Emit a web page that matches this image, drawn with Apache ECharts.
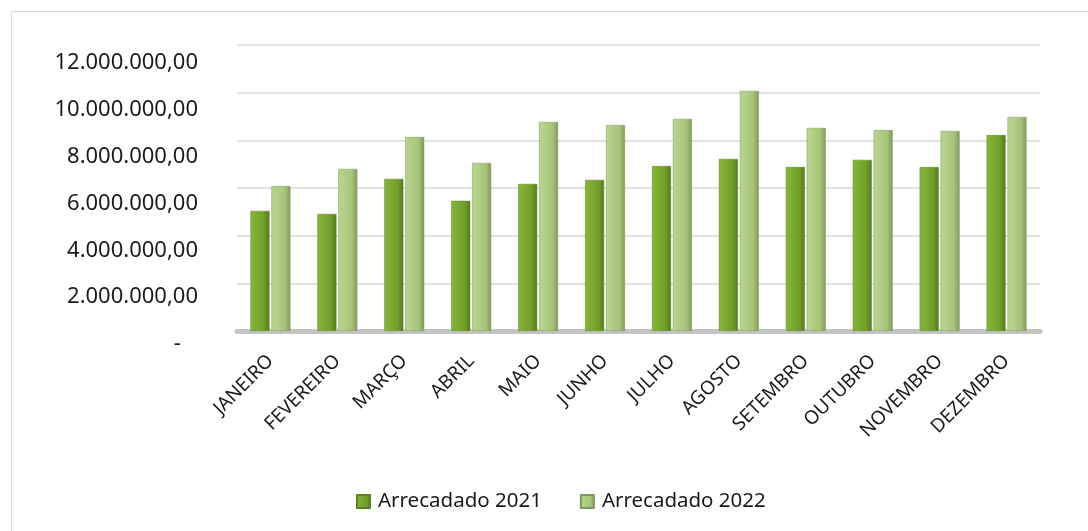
<!DOCTYPE html>
<html>
<head>
<meta charset="utf-8">
<style>
  html, body { margin: 0; padding: 0; background: #ffffff; }
  #chart { width: 1088px; height: 531px; }
</style>
<script src="https://cdn.jsdelivr.net/npm/echarts@6/dist/echarts.min.js"></script>
</head>
<body>
<div id="chart"></div>
<script>
const categories = ['JANEIRO', 'FEVEREIRO', 'MARÇO', 'ABRIL', 'MAIO', 'JUNHO', 'JULHO', 'AGOSTO', 'SETEMBRO', 'OUTUBRO', 'NOVEMBRO', 'DEZEMBRO'];
const arrecadado2021 = [5040000, 4910000, 6380000, 5460000, 6170000, 6340000, 6920000, 7220000, 6880000, 7180000, 6880000, 8220000];
const arrecadado2022 = [6080000, 6800000, 8140000, 7050000, 8770000, 8640000, 8900000, 10070000, 8520000, 8430000, 8390000, 8980000];
const seriesNames = ['Arrecadado 2021', 'Arrecadado 2022'];
const yTicks = { min: 0, max: 12000000, interval: 2000000 };

function fmt(v) {
  if (v === 0) return '-   ';
  const s = Math.round(v).toString().replace(/\B(?=(\d{3})+(?!\d))/g, '.');
  return s + ',00';
}

const chart = echarts.init(document.getElementById('chart'));
const FONT = 'Noto Sans';

const grad = (a, b, c) => new echarts.graphic.LinearGradient(0, 0, 1, 0, [
  { offset: 0, color: a }, { offset: 0.7, color: b }, { offset: 1, color: c }
]);

chart.setOption({
  backgroundColor: '#ffffff',
  animation: false,
  textStyle: { fontFamily: FONT },
  graphic: [{
    type: 'rect',
    shape: { x: 11.5, y: 11.5, width: 1100, height: 540 },
    style: { fill: 'none', stroke: '#d9d9d9', lineWidth: 1 },
    silent: true,
    z: -10
  }],
  grid: [
    { left: 237, right: 48, top: 45, bottom: 200, containLabel: false },
    { left: 237, right: 48, top: 63, bottom: 187, containLabel: false }
  ],
  legend: {
    data: seriesNames,
    bottom: 14,
    left: 351,
    icon: 'rect',
    itemWidth: 13,
    itemHeight: 13,
    itemGap: 38,
    textStyle: { fontFamily: FONT, fontSize: 20.5, color: '#1a1a1a', padding: [0, 0, 0, 3] }
  },
  xAxis: [
    {
      type: 'category',
      gridIndex: 0,
      data: categories,
      axisTick: { show: false },
      axisLine: { show: true, lineStyle: { color: '#c4c4c4', width: 5 } },
      axisLabel: {
        rotate: 45,
        interval: 0,
        margin: 27,
        fontFamily: FONT,
        fontSize: 19,
        color: '#1a1a1a'
      }
    },
    {
      type: 'category',
      gridIndex: 1,
      data: categories,
      show: false
    }
  ],
  yAxis: [
    {
      type: 'value',
      gridIndex: 0,
      min: yTicks.min,
      max: yTicks.max,
      interval: yTicks.interval,
      axisLine: { show: false },
      axisTick: { show: false },
      splitLine: { lineStyle: { color: '#d9d9d9', width: 1.5 } },
      axisLabel: { show: false }
    },
    {
      type: 'value',
      gridIndex: 1,
      min: yTicks.min,
      max: yTicks.max,
      interval: yTicks.interval,
      axisLine: { show: false },
      axisTick: { show: false },
      splitLine: { show: false },
      axisLabel: {
        formatter: fmt,
        margin: 39,
        fontFamily: FONT,
        fontSize: 22,
        color: '#1a1a1a'
      }
    }
  ],
  series: [
    {
      name: seriesNames[0],
      type: 'bar',
      xAxisIndex: 0,
      yAxisIndex: 0,
      data: arrecadado2021,
      barWidth: 19,
      barGap: '10%',
      itemStyle: {
        color: grad('#86b63a', '#6f9f28', '#557a1c'),
        borderColor: '#5d8423',
        borderWidth: 0.5
      }
    },
    {
      name: seriesNames[1],
      type: 'bar',
      xAxisIndex: 0,
      yAxisIndex: 0,
      data: arrecadado2022,
      barWidth: 19,
      itemStyle: {
        color: grad('#b9d690', '#a6c57a', '#7f9a5c'),
        borderColor: '#7f9a5c',
        borderWidth: 0.5
      }
    }
  ]
});
</script>
</body>
</html>
